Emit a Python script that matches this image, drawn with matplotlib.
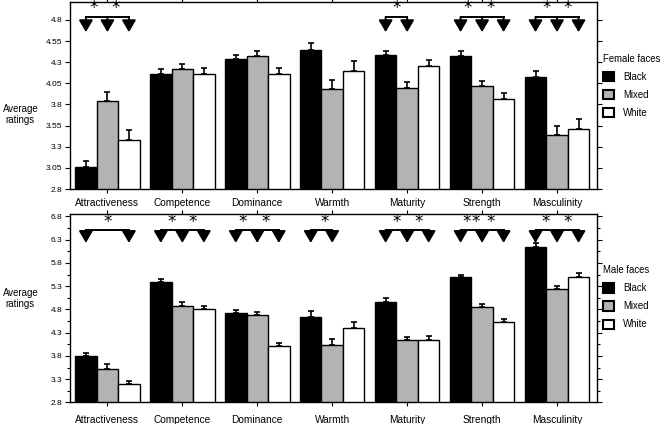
import numpy as np
import matplotlib
matplotlib.use("Agg")
import matplotlib.pyplot as plt
from matplotlib.patches import Patch

plt.rcParams['font.family'] = ['Liberation Sans', 'DejaVu Sans']

traits = ["Attractiveness", "Competence", "Dominance", "Warmth",
          "Maturity", "Strength", "Masculinity"]
groups = ["Black", "Mixed", "White"]
colors = ["black", "#b3b3b3", "white"]

# female faces: means and upper error
female_black = [3.06, 4.165, 4.337, 4.44, 4.385, 4.373, 4.12]
female_mixed = [3.847, 4.22, 4.373, 3.98, 4.0, 4.015, 3.44]
female_white = [3.376, 4.165, 4.165, 4.2, 4.25, 3.867, 3.51]
female_black_err = [0.07, 0.055, 0.045, 0.09, 0.045, 0.055, 0.07]
female_mixed_err = [0.10, 0.06, 0.055, 0.11, 0.07, 0.065, 0.10]
female_white_err = [0.125, 0.065, 0.07, 0.11, 0.07, 0.065, 0.12]

# male faces
male_black = [3.80, 5.40, 4.72, 4.64, 4.96, 5.49, 6.15]
male_mixed = [3.51, 4.875, 4.69, 4.04, 4.14, 4.85, 5.23]
male_white = [3.19, 4.81, 4.01, 4.41, 4.14, 4.52, 5.50]
male_black_err = [0.07, 0.06, 0.07, 0.13, 0.08, 0.06, 0.07]
male_mixed_err = [0.11, 0.085, 0.06, 0.12, 0.07, 0.06, 0.08]
male_white_err = [0.08, 0.06, 0.07, 0.11, 0.09, 0.07, 0.09]

# significance marks: category -> bars with arrows, star offsets (in bar units from Black)
female_arrows = {0: [0, 1, 2], 4: [0, 1], 5: [0, 1, 2], 6: [0, 1, 2]}
female_stars = {0: [0.35, 1.4], 4: [0.5], 5: [0.35, 1.4], 6: [0.5, 1.5]}
male_arrows = {0: [0, 2], 1: [0, 1, 2], 2: [0, 1, 2], 3: [0, 1],
               4: [0, 1, 2], 5: [0, 1, 2], 6: [0, 1, 2]}
male_stars = {0: [1.0], 1: [0.5, 1.5], 2: [0.33, 1.38], 3: [0.65],
              4: [0.5, 1.55], 5: [0.27, 0.7, 1.38], 6: [0.48, 1.48]}

W = 0.287
x = np.arange(len(traits))


def draw_panel(ax, means, errs, ylim, yticks, minor, arrows, stars, levels, title, pad, anchor):
    for i, (m, e) in enumerate(zip(means, errs)):
        xs = x + (i - 1) * W
        ax.bar(xs, m, width=W, bottom=0, color=colors[i], edgecolor="black", lw=1.0, zorder=2)
        ax.errorbar(xs, m, yerr=[np.zeros(len(e)), e], fmt="none", ecolor="black",
                    elinewidth=1.2, capsize=2.2, capthick=1.2, zorder=1)
    bracket, tip, star_y = levels
    for c, bars in arrows.items():
        bx = [x[c] + (b - 1) * W for b in bars]
        ax.plot([bx[0], bx[-1]], [bracket, bracket], color="black", lw=1.4)
        for xx in bx:
            ax.annotate("", xy=(xx, tip), xytext=(xx, bracket),
                        arrowprops=dict(arrowstyle="-|>,head_length=0.72,head_width=0.42",
                                        color="black", lw=1.4, shrinkA=0, shrinkB=0))
    for c, offs in stars.items():
        for o in offs:
            ax.text(x[c] - W + o * W, star_y, "*", ha="center", va="center",
                    fontsize=12, family="DejaVu Sans")
    ax.set_xlim(-0.5, 6.53)
    ax.set_ylim(*ylim)
    ax.set_yticks(yticks)
    ax.set_yticklabels([("%g" % t) for t in yticks], fontsize=6)
    if minor is not None:
        ax.set_yticks(minor, minor=True)
    ax.set_xticks(x)
    ax.set_xticklabels(traits, fontsize=7.3)
    ax.tick_params(axis="x", direction="out", length=3, width=0.8, top=True, pad=pad)
    ax.tick_params(axis="y", direction="out", length=3.5, width=0.8, right=True, pad=2)
    ax.tick_params(axis="y", which="minor", direction="out", length=2, width=0.8, right=True)
    for s in ax.spines.values():
        s.set_linewidth(1.0)
    ax.set_ylabel("Average\nratings", rotation=0, fontsize=6.9, ha="center", va="center",
                  multialignment="center", linespacing=1.1)
    handles = [Patch(facecolor=colors[i], edgecolor="black", lw=1.5) for i in range(3)]
    leg = ax.legend(handles, groups, title=title, loc="upper left", bbox_to_anchor=anchor,
                    frameon=False, fontsize=6.9, title_fontsize=6.9, handlelength=1.1,
                    handleheight=1.1, handletextpad=1.0, labelspacing=0.85, alignment="left",
                    borderaxespad=0)
    return leg


fig = plt.figure(figsize=(6.66, 4.24), dpi=100)
ax1 = fig.add_axes([0.105, 0.554, 0.791, 0.441])
ax2 = fig.add_axes([0.105, 0.051, 0.791, 0.444])

draw_panel(ax1, [female_black, female_mixed, female_white],
           [female_black_err, female_mixed_err, female_white_err],
           (2.8, 5.01), np.arange(2.8, 4.81, 0.25), None,
           female_arrows, female_stars, (4.835, 4.655, 4.94), "Female faces", 3.5,
           (1.005, 0.745))
ax1.yaxis.set_label_coords(-0.094, 0.40)

draw_panel(ax2, [male_black, male_mixed, male_white],
           [male_black_err, male_mixed_err, male_white_err],
           (2.8, 6.85), np.arange(2.8, 6.81, 0.5), np.arange(3.05, 6.81, 0.5),
           male_arrows, male_stars, (6.51, 6.23, 6.67), "Male faces", 6,
           (1.005, 0.75))
ax2.yaxis.set_label_coords(-0.094, 0.55)

fig.savefig("out.png", dpi=100)
